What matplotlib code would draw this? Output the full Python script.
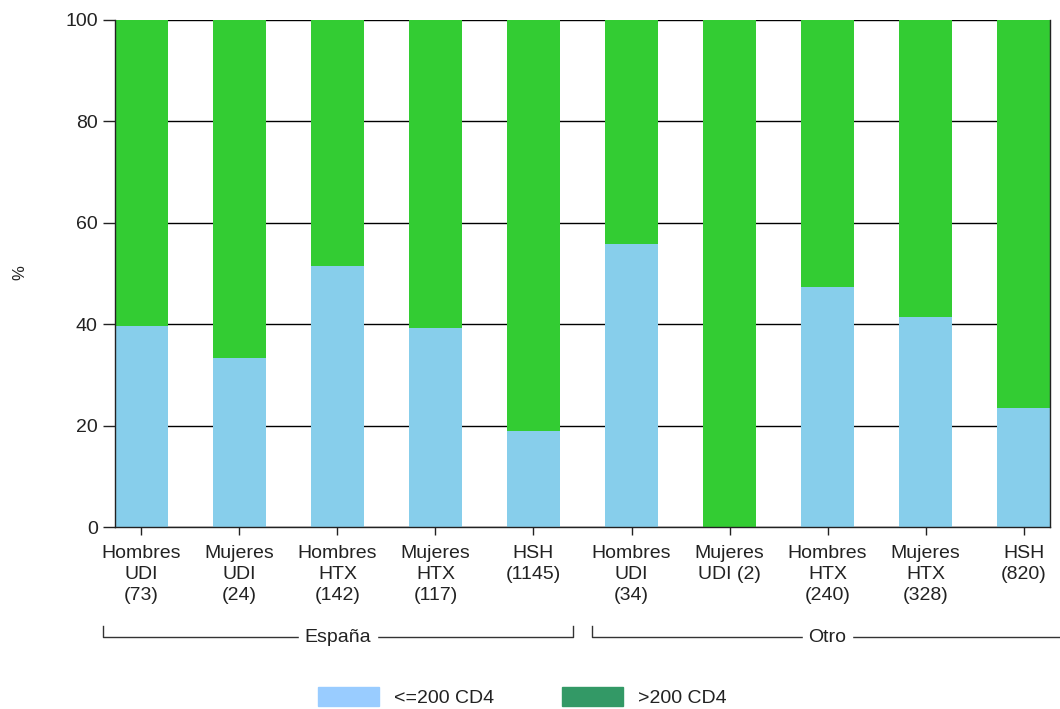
import matplotlib.pyplot as plt
import matplotlib.transforms as mtransforms
from matplotlib.patches import Patch

plt.rcParams['font.family'] = ['Liberation Sans', 'DejaVu Sans']

labels = ["Hombres\nUDI\n(73)", "Mujeres\nUDI\n(24)", "Hombres\nHTX\n(142)", "Mujeres\nHTX\n(117)",
          "HSH\n(1145)", "Hombres\nUDI\n(34)", "Mujeres\nUDI (2)", "Hombres\nHTX\n(240)",
          "Mujeres\nHTX\n(328)", "HSH\n(820)"]
low_cd4 = [39.7, 33.3, 51.4, 39.3, 18.9, 55.9, 0.0, 47.3, 41.5, 23.5]
high_cd4 = [100 - v for v in low_cd4]
groups = ["España", "Otro"]
yticks = [0, 20, 40, 60, 80, 100]

bar_low = "#87CEEB"
bar_high = "#33CC33"
leg_low = "#99CCFF"
leg_high = "#339966"
txt = "#222222"

fig = plt.figure(figsize=(10.6, 7.09), dpi=100)
ax = fig.add_axes([115 / 1060, 1 - 527 / 709, 935 / 1060, 507 / 709])

x = list(range(len(labels)))
ax.bar(x, low_cd4, width=0.54, color=bar_low, zorder=2)
ax.bar(x, high_cd4, width=0.54, bottom=low_cd4, color=bar_high, zorder=2)

ax.set_xlim(-0.27, 9.27)
ax.set_ylim(0, 100)
ax.set_yticks(yticks)
ax.set_xticks(x)
ax.set_xticklabels(labels, fontsize=14, linespacing=1.3, color=txt)
ax.tick_params(axis='y', labelsize=14, length=9, width=1, pad=3.5, labelcolor=txt, color='#222222')
ax.tick_params(axis='x', length=6, width=1, pad=7, color='#222222')
ax.yaxis.grid(True, color='black', linewidth=1, zorder=0)
ax.set_axisbelow(True)
ax.spines['top'].set_visible(False)
for s in ['left', 'right', 'bottom']:
    ax.spines[s].set_linewidth(1)
    ax.spines[s].set_color('#222222')

fig.text(20 / 1060, 1 - 273 / 709, "%", rotation=90, fontsize=12, ha='center', va='center', color=txt)

# group brackets under the tick labels
trans = mtransforms.blended_transform_factory(ax.transData, ax.transAxes)
yb, yt = -0.217, -0.195
for name, x0, x1 in [(groups[0], -0.39, 4.40), (groups[1], 4.60, 9.40)]:
    ax.plot([x0, x0, x1, x1], [yt, yb, yb, yt], color='#333333', lw=1,
            transform=trans, clip_on=False)
    ax.text((x0 + x1) / 2, yb, name, transform=trans, ha='center', va='center',
            fontsize=14, color=txt, backgroundcolor='white', clip_on=False)

handles = [Patch(color=leg_low, label="<=200 CD4"), Patch(color=leg_high, label=">200 CD4")]
fig.legend(handles=handles, loc='center', bbox_to_anchor=(0.493, 0.017), ncol=2, frameon=False,
           fontsize=14, handlelength=3.1, handleheight=1.15, handletextpad=0.8,
           columnspacing=3.5, borderpad=0, labelcolor=txt)

fig.savefig("out.png", dpi=100)
